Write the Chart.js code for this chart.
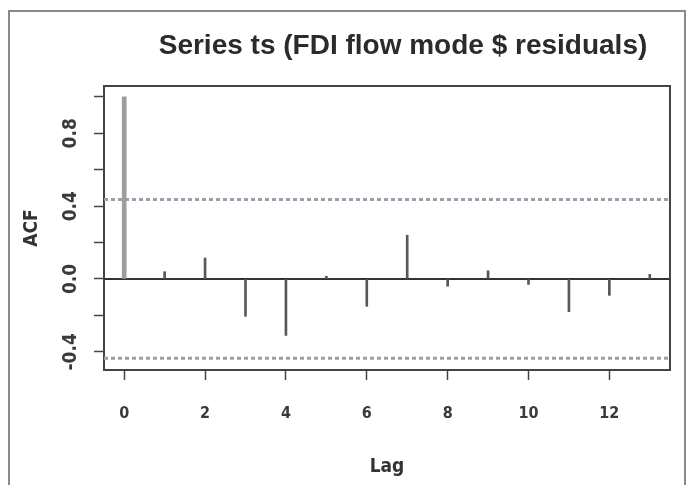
<!DOCTYPE html>
<html>
<head>
<meta charset="utf-8">
<script src="https://cdn.jsdelivr.net/npm/chart.js@4"></script>
<style>
  html, body { margin: 0; padding: 0; background: #fff; }
  #wrap { position: relative; width: 687px; height: 485px; overflow: hidden; }
  #frame { position: absolute; left: 8px; top: 10px; width: 674px; height: 480px;
           border: 2px solid #8a8a8a; border-bottom: none; }
  canvas { position: absolute; left: 0; top: 0; }
</style>
</head>
<body>
<div id="wrap">
  <div id="frame"></div>
  <canvas id="acf" width="687" height="485"></canvas>
</div>
<script>
const titleText = "Series ts (FDI flow mode $ residuals)";

// autocorrelation at each lag
const lags = [0, 1, 2, 3, 4, 5, 6, 7, 8, 9, 10, 11, 12, 13];
const acfValues = [1.0, 0.04, 0.115, -0.205, -0.31, 0.015, -0.15, 0.24, -0.04, 0.045, -0.03, -0.18, -0.09, 0.025];
const ciLimit = 0.436; // dashed bounds

const xTicks = [0, 2, 4, 6, 8, 10, 12];
const yTicks = [-0.4, -0.2, 0, 0.2, 0.4, 0.6, 0.8, 1.0];
const yLabelled = [-0.4, 0, 0.4, 0.8];

const xMin = -0.5, xMax = 13.5;
const yMin = -0.5, yMax = 1.06;

const labelFont = '"DejaVu Sans Condensed", "Liberation Sans", Arial, sans-serif';

// title sits a bit right of centre like in the scan
const titlePlugin = {
    id: "mainTitle",
    afterDraw(chart) {
        const ctx = chart.ctx;
        const area = chart.chartArea;
        ctx.save();
        ctx.font = 'bold 28px Arial, "Liberation Sans", sans-serif';
        ctx.fillStyle = "#2b2b2b";
        ctx.textAlign = "center";
        ctx.textBaseline = "middle";
        ctx.fillText(titleText, (area.left + area.right) / 2 + 16, 46);
        ctx.restore();
    }
};

const boxAxis = (position) => ({
    type: "linear",
    position: position,
    min: position === "top" ? xMin : yMin,
    max: position === "top" ? xMax : yMax,
    grid: { display: false, drawTicks: false },
    ticks: { display: false },
    border: { display: true, color: "#444", width: 2 },
    afterFit: (s) => {
        if (position === "top") s.height = 0; else s.width = 0;
    }
});

new Chart(document.getElementById("acf").getContext("2d"), {
    type: "bar",
    data: {
        datasets: [
            {
                type: "bar",
                data: [{ x: lags[0], y: acfValues[0] }],
                backgroundColor: "#9d9d9d",
                barThickness: 4,
                grouped: false
            },
            {
                type: "bar",
                data: lags.slice(1).map((l, i) => ({ x: l, y: acfValues[i + 1] })),
                backgroundColor: "#585858",
                barThickness: 2,
                grouped: false
            },
            {
                type: "line",
                data: [{ x: xMin, y: ciLimit }, { x: xMax, y: ciLimit }],
                borderColor: "#97a1ac",
                borderWidth: 3,
                borderDash: [4, 3],
                pointRadius: 0
            },
            {
                type: "line",
                data: [{ x: xMin, y: -ciLimit }, { x: xMax, y: -ciLimit }],
                borderColor: "#97a1ac",
                borderWidth: 3,
                borderDash: [4, 3],
                pointRadius: 0
            },
            {
                type: "line",
                data: [{ x: xMin, y: 0 }, { x: xMax, y: 0 }],
                borderColor: "#333",
                borderWidth: 2,
                pointRadius: 0
            }
        ]
    },
    options: {
        responsive: false,
        animation: false,
        layout: { padding: { top: 86, right: 17, left: 0, bottom: 0 } },
        plugins: {
            legend: { display: false },
            tooltip: { enabled: false }
        },
        scales: {
            x: {
                type: "linear",
                min: xMin,
                max: xMax,
                offset: false,
                afterBuildTicks: (s) => { s.ticks = xTicks.map((v) => ({ value: v })); },
                grid: { drawOnChartArea: false, drawTicks: true, tickLength: 10, tickColor: "#444", tickWidth: 1.5, offset: false },
                border: { display: true, color: "#444", width: 2 },
                ticks: {
                    autoSkip: false, maxRotation: 0, padding: 24, color: "#3a3a3a",
                    font: { family: labelFont, size: 16, weight: "bold" },
                    callback: (v) => String(v)
                },
                title: {
                    display: true, text: "Lag", color: "#333",
                    font: { family: labelFont, size: 19, weight: "bold" },
                    padding: { top: 0, bottom: 7 }
                },
                afterFit: (s) => { s.height = 115; }
            },
            y: {
                type: "linear",
                min: yMin,
                max: yMax,
                afterBuildTicks: (s) => { s.ticks = yTicks.map((v) => ({ value: v })); },
                grid: { drawOnChartArea: false, drawTicks: true, tickLength: 10, tickColor: "#444", tickWidth: 1.5 },
                border: { display: true, color: "#444", width: 2 },
                ticks: {
                    autoSkip: false, minRotation: 90, maxRotation: 90, crossAlign: "center",
                    padding: 4, color: "#3a3a3a",
                    font: { family: labelFont, size: 19, weight: "bold" },
                    callback: (v) => (yLabelled.includes(v) ? v.toFixed(1) : "")
                },
                title: {
                    display: true, text: "ACF", color: "#333",
                    font: { family: labelFont, size: 19, weight: "bold" },
                    padding: { top: 21, bottom: 0 }
                },
                afterFit: (s) => { s.width = 104; }
            },
            xTop: boxAxis("top"),
            yRight: boxAxis("right")
        }
    },
    plugins: [titlePlugin]
});
</script>
</body>
</html>
